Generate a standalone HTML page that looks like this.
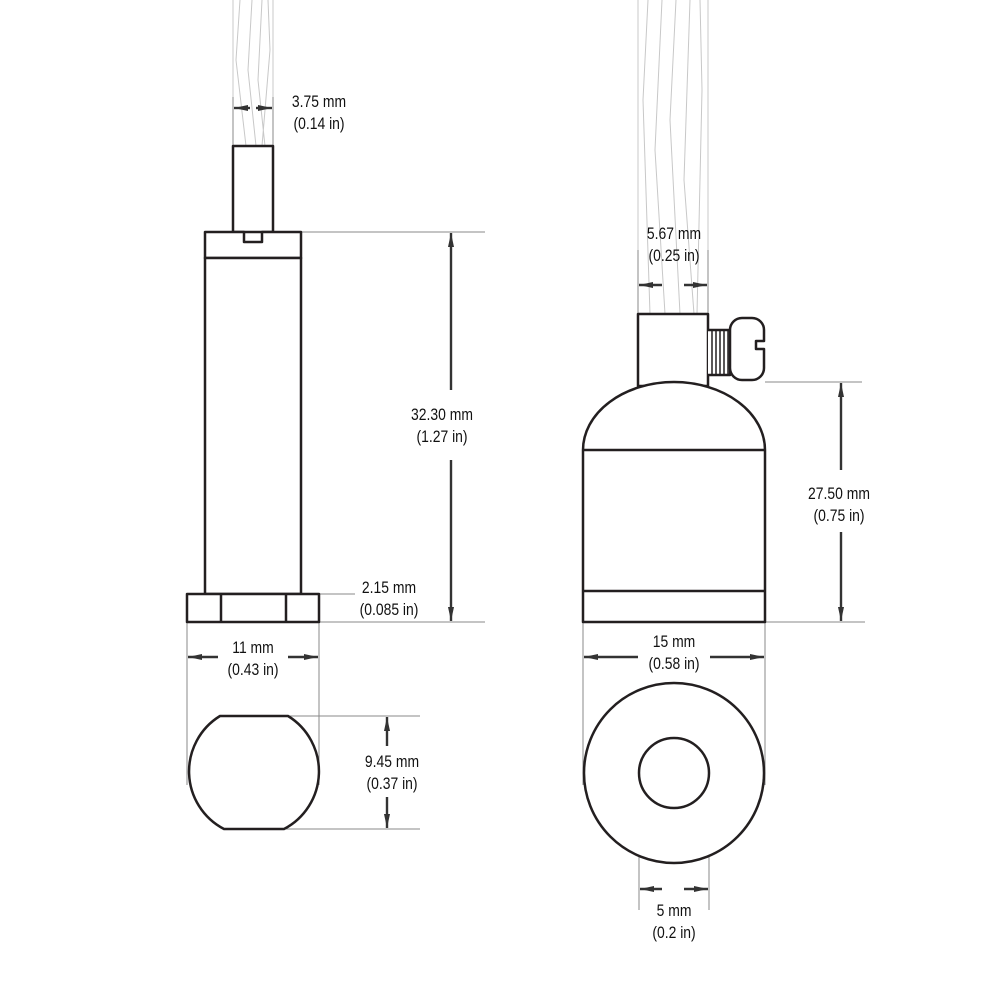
<!DOCTYPE html>
<html><head><meta charset="utf-8"><style>
html,body{margin:0;padding:0;background:#fff}
svg{display:block}
text{font-family:"Liberation Sans",Arial,sans-serif;font-size:17px;fill:#111;text-anchor:middle}
</style></head><body>
<svg width="1000" height="1000" viewBox="0 0 1000 1000" xmlns="http://www.w3.org/2000/svg">
<defs>
<marker id="a" viewBox="0 0 14 6" refX="14" refY="3" markerWidth="14" markerHeight="6" markerUnits="userSpaceOnUse" orient="auto"><path d="M0,0 L14,3 L0,6 z" fill="#333"/></marker>
</defs>
<g stroke="#c8c8c8" stroke-width="1" fill="none">
<line x1="233" y1="0" x2="233" y2="146"/><line x1="273" y1="0" x2="273" y2="146"/>
<path d="M240,0 L236,60 L246,146 M252,0 L248,70 L256,146 M262,0 L258,80 L265,146 M268,0 L270,50 L262,146"/>
<line x1="638" y1="0" x2="638" y2="314"/><line x1="708" y1="0" x2="708" y2="314"/>
<path d="M648,0 L643,100 L650,314 M662,0 L655,150 L665,314 M676,0 L670,120 L680,314 M690,0 L684,180 L694,314 M700,0 L702,90 L697,314"/>
</g>
<g stroke="#888" stroke-width="1" fill="none">
<line x1="233" y1="97" x2="233" y2="146"/><line x1="273" y1="97" x2="273" y2="146"/>
<line x1="301" y1="232" x2="485" y2="232"/><line x1="319" y1="622" x2="485" y2="622"/>
<line x1="301" y1="594" x2="355" y2="594"/>
<line x1="187" y1="622" x2="187" y2="785"/><line x1="319" y1="622" x2="319" y2="785"/>
<line x1="288" y1="716" x2="420" y2="716"/><line x1="284" y1="829" x2="420" y2="829"/>
<line x1="638" y1="250" x2="638" y2="314"/><line x1="708" y1="250" x2="708" y2="314"/>
<line x1="765" y1="382" x2="862" y2="382"/><line x1="765" y1="622" x2="865" y2="622"/>
<line x1="583" y1="622" x2="583" y2="785"/><line x1="765" y1="622" x2="765" y2="785"/>
<line x1="639" y1="763" x2="639" y2="910"/><line x1="709" y1="763" x2="709" y2="910"/>
</g>
<g stroke="#333" stroke-width="2.4" fill="none" marker-end="url(#a)">
<line x1="250" y1="108" x2="234" y2="108"/><line x1="256" y1="108" x2="272" y2="108"/>
<line x1="451" y1="390" x2="451" y2="233"/><line x1="451" y1="460" x2="451" y2="621"/>
<line x1="218" y1="657" x2="188" y2="657"/><line x1="288" y1="657" x2="318" y2="657"/>
<line x1="387" y1="746" x2="387" y2="717"/><line x1="387" y1="797" x2="387" y2="828"/>
<line x1="662" y1="285" x2="639" y2="285"/><line x1="684" y1="285" x2="707" y2="285"/>
<line x1="841" y1="470" x2="841" y2="383"/><line x1="841" y1="532" x2="841" y2="621"/>
<line x1="638" y1="657" x2="584" y2="657"/><line x1="710" y1="657" x2="764" y2="657"/>
<line x1="662" y1="889" x2="640" y2="889"/><line x1="684" y1="889" x2="708" y2="889"/>
</g>
<g stroke="#231f20" stroke-width="2.5" fill="#fff" stroke-linejoin="round">
<rect x="233" y="146" width="40" height="86"/>
<path d="M205,232 H244 V242 H262 V232 H301 V258 H205 Z"/>
<rect x="205" y="258" width="96" height="336"/>
<rect x="187" y="594" width="132" height="28"/>
<line x1="221" y1="594" x2="221" y2="622"/><line x1="286" y1="594" x2="286" y2="622"/>
<path d="M220,716 H288 A65,65 0 0 1 284,829 H224 A65,65 0 0 1 220,716 Z"/>
<rect x="638" y="314" width="70" height="72"/>
<path d="M708,330 H730 V375 H708" />
<g stroke-width="1.5"><line x1="712" y1="330" x2="712" y2="375"/><line x1="716" y1="330" x2="716" y2="375"/><line x1="720" y1="330" x2="720" y2="375"/><line x1="724" y1="330" x2="724" y2="375"/><line x1="728" y1="330" x2="728" y2="375"/></g>
<path d="M742,318 H752 A12,12 0 0 1 764,330 V341 H756 V349 H764 V368 A12,12 0 0 1 752,380 H742 A12,12 0 0 1 730,368 V330 A12,12 0 0 1 742,318 Z"/>
<path d="M583,622 V450 A91,68 0 0 1 765,450 V622 Z"/>
<line x1="583" y1="450" x2="765" y2="450"/>
<line x1="583" y1="591" x2="765" y2="591"/>
<circle cx="674" cy="773" r="90"/>
<circle cx="674" cy="773" r="35"/>
</g>
<g>
<text transform="translate(319,107) scale(0.82,1)">3.75 mm</text><text transform="translate(319,129) scale(0.82,1)">(0.14 in)</text>
<text transform="translate(442,420) scale(0.82,1)">32.30 mm</text><text transform="translate(442,442) scale(0.82,1)">(1.27 in)</text>
<text transform="translate(389,593) scale(0.82,1)">2.15 mm</text><text transform="translate(389,615) scale(0.82,1)">(0.085 in)</text>
<text transform="translate(253,653) scale(0.82,1)">11 mm</text><text transform="translate(253,675) scale(0.82,1)">(0.43 in)</text>
<text transform="translate(392,767) scale(0.82,1)">9.45 mm</text><text transform="translate(392,789) scale(0.82,1)">(0.37 in)</text>
<text transform="translate(674,239) scale(0.82,1)">5.67 mm</text><text transform="translate(674,261) scale(0.82,1)">(0.25 in)</text>
<text transform="translate(839,499) scale(0.82,1)">27.50 mm</text><text transform="translate(839,521) scale(0.82,1)">(0.75 in)</text>
<text transform="translate(674,647) scale(0.82,1)">15 mm</text><text transform="translate(674,669) scale(0.82,1)">(0.58 in)</text>
<text transform="translate(674,916) scale(0.82,1)">5 mm</text><text transform="translate(674,938) scale(0.82,1)">(0.2 in)</text>
</g>
</svg>
</body></html>
